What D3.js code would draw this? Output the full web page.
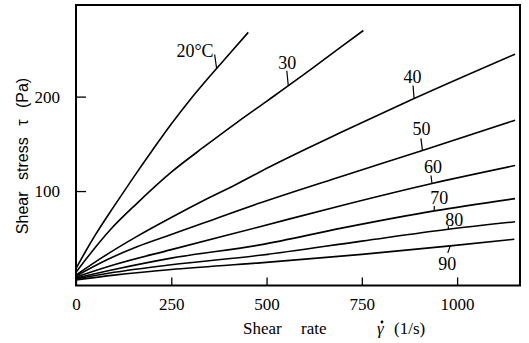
<!DOCTYPE html>
<html>
<head>
<meta charset="utf-8">
<script src="https://cdn.jsdelivr.net/npm/d3@7"></script>
<style>
    body { margin: 0; background: #fff; }
    svg { display: block; }
</style>
</head>
<body>
<svg id="chart" width="529" height="343"></svg>
<script>
/*
    Shear stress vs shear rate, one curve per temperature.
*/

var temps = ["20°C", "30", "40", "50", "60", "70", "80", "90"];

// shear rate (1/s) / shear stress (Pa)
var rate20 = [0, 25, 50, 100, 150, 200, 250, 300, 350, 400, 452];
var stress20 = [18, 36, 53, 84, 114, 143, 171, 197, 221, 244, 268];

var rate30 = [0, 40, 90, 160, 250, 340, 420, 500, 600, 700, 754];
var stress30 = [14, 35, 59, 87, 120, 148, 172, 195, 224, 254, 270];

var rate40 = [0, 70, 160, 250, 340, 420, 510, 700, 887, 1152];
var stress40 = [11, 30, 52, 72, 91, 107, 126, 163, 198, 245];

var rate50 = [0, 80, 160, 250, 340, 480, 700, 909, 1152];
var stress50 = [10, 27, 41, 54, 67, 87, 116, 143, 175];

var rate60 = [0, 100, 250, 480, 700, 934, 1152];
var stress60 = [9, 22, 38, 62, 85, 108, 127];

var rate70 = [0, 100, 250, 483, 700, 940, 1152];
var stress70 = [8, 17, 29, 43, 61, 79, 92];

var rate80 = [0, 100, 250, 483, 750, 977, 1152];
var stress80 = [7, 14, 22, 32, 47, 59.5, 67.5];

var rate90 = [0, 100, 250, 483, 750, 982, 1150];
var stress90 = [6, 11, 17, 24, 33, 42, 49];

// shear rate where each label's leader meets its curve
var labelRate = [369, 557, 887, 909, 934, 940, 977, 982];

var xTicks = [0, 250, 500, 750, 1000];
var yTicks = [100, 200];

var SERIF = '"Liberation Serif", "Times New Roman", "DejaVu Serif", serif';
var SANS = '"Liberation Sans", Arial, sans-serif';

var rates = [rate20, rate30, rate40, rate50, rate60, rate70, rate80, rate90];
var stresses = [stress20, stress30, stress40, stress50, stress60, stress70, stress80, stress90];

var series = temps.map(function(t, i) {
    return {
        key: t,
        at: labelRate[i],
        values: rates[i].map(function(r, j) { return {x: r, y: stresses[i][j]}; })
    };
});

// leader/text offsets in px from the point on the curve
var labelLayout = [
    {lx: -2,   ly: -14, tx: -3,   ty: -12, anchor: "end"},
    {lx: -1.5, ly: -15, tx: -1,   ty: -17, anchor: "middle"},
    {lx: -1,   ly: -13, tx: -1.5, ty: -16, anchor: "middle"},
    {lx: -1.5, ly: -12, tx: -1,   ty: -15, anchor: "middle"},
    {lx: -1,   ly: -8,  tx: 1,    ty: -11, anchor: "middle"},
    {lx: 0,    ly: -5,  tx: 5,    ty: -6.5, anchor: "middle"},
    {lx: 0,    ly: -3,  tx: 6,    ty: -3,  anchor: "middle"},
    {lx: -2.5, ly: 7,   tx: -3,   ty: 24,  anchor: "middle"}
];

var svg = d3.select("#chart");

var x = d3.scaleLinear().domain([0, 1165]).range([76, 520]);
var y = d3.scaleLinear().domain([0, 297]).range([285.5, 5]);

///////////////////////
// Frame and axes
///////////////////////

svg.append("rect")
    .attr("x", x(0))
    .attr("y", y(297))
    .attr("width", x(1165) - x(0))
    .attr("height", y(0) - y(297))
    .attr("fill", "none")
    .attr("stroke", "#000")
    .attr("stroke-width", 2);

var xAxis = svg.append("g")
    .attr("transform", "translate(0," + y(0) + ")")
    .call(d3.axisBottom(x).tickValues(xTicks).tickFormat(d3.format("d"))
        .tickSizeInner(-8).tickSizeOuter(0).tickPadding(12));

var yAxis = svg.append("g")
    .attr("transform", "translate(" + x(0) + ",0)")
    .call(d3.axisLeft(y).tickValues(yTicks).tickFormat(d3.format("d"))
        .tickSizeInner(-10).tickSizeOuter(0).tickPadding(16));

[xAxis, yAxis].forEach(function(a) {
    a.attr("font-family", null).attr("font-size", null);
    a.select(".domain").remove();
    a.selectAll(".tick line").attr("stroke", "#000").attr("stroke-width", 1.3);
    a.selectAll(".tick text")
        .style("font-family", SERIF)
        .style("font-size", "17px")
        .attr("fill", "#000");
});

///////////////////////
// Curves
///////////////////////

var line = d3.line()
    .x(function(d) { return x(d.x); })
    .y(function(d) { return y(d.y); })
    .curve(d3.curveMonotoneX);

svg.append("g").selectAll("path")
    .data(series)
    .enter().append("path")
        .attr("d", function(d) { return line(d.values); })
        .attr("fill", "none")
        .attr("stroke", "#000")
        .attr("stroke-width", 1.6);

// point on the curve at a given rate
var onCurve = function(d) {
    var i = d3.bisector(function(v) { return v.x; }).left(d.values, d.at);
    var a = d.values[i - 1], b = d.values[i];
    var t = (d.at - a.x) / (b.x - a.x);
    return [x(d.at), y(a.y + t * (b.y - a.y))];
};

var labels = svg.append("g").selectAll("g")
    .data(series)
    .enter().append("g");

labels.append("line")
    .attr("x1", function(d) { return onCurve(d)[0]; })
    .attr("y1", function(d) { return onCurve(d)[1]; })
    .attr("x2", function(d, i) { return onCurve(d)[0] + labelLayout[i].lx; })
    .attr("y2", function(d, i) { return onCurve(d)[1] + labelLayout[i].ly; })
    .attr("stroke", "#000")
    .attr("stroke-width", 1.2);

labels.append("text")
    .attr("x", function(d, i) { return onCurve(d)[0] + labelLayout[i].tx; })
    .attr("y", function(d, i) { return onCurve(d)[1] + labelLayout[i].ty; })
    .attr("text-anchor", function(d, i) { return labelLayout[i].anchor; })
    .style("font-family", SERIF)
    .style("font-size", "18px")
    .text(function(d) { return d.key; });

///////////////////////
// Axis titles
///////////////////////

var xTitle = svg.append("text")
    .attr("y", 334)
    .style("font-family", SERIF)
    .style("font-size", "17px");
xTitle.append("tspan").attr("x", 243).text("Shear");
xTitle.append("tspan").attr("x", 301).text("rate");
xTitle.append("tspan").attr("x", 377).style("font-style", "italic").text("\u03B3");
xTitle.append("tspan").attr("x", 394).text("(1/s)");

// dot over gamma
svg.append("circle")
    .attr("cx", 382)
    .attr("cy", 322)
    .attr("r", 1.4)
    .attr("fill", "#000");

svg.append("text")
    .attr("transform", "translate(28,156) rotate(-90)")
    .attr("text-anchor", "middle")
    .style("font-family", SANS)
    .style("font-size", "16px")
    .style("word-spacing", "7px")
    .text("Shear stress \u03C4 (Pa)");
</script>
</body>
</html>
